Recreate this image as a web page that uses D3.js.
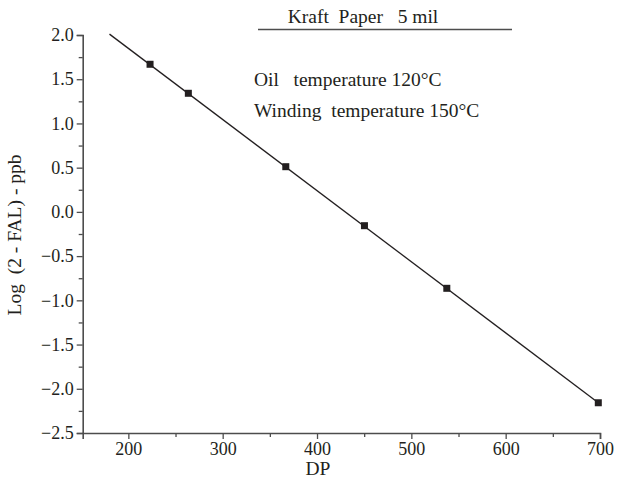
<!DOCTYPE html>
<html>
<head>
<meta charset="utf-8">
<script src="https://cdn.jsdelivr.net/npm/d3@7"></script>
<style>
  html, body { margin: 0; padding: 0; background: #fff; }
  svg { display: block; }
  text { font-family: "Liberation Serif", "DejaVu Serif", serif; fill: #231f20; }
</style>
</head>
<body>
<svg id="chart" width="620" height="496"></svg>
<script>
// Data
const dpValues = [223, 263.6, 366.9, 450.3, 537.6, 698.2];
const logFalValues = [1.669, 1.341, 0.511, -0.156, -0.864, -2.158];
// Fitted line end points
const fitDP = [180, 698.2];
const fitLogFal = [2.01, -2.158];
const xTicks = [200, 300, 400, 500, 600, 700];
const xMinorTicks = [250, 350, 450, 550, 650];
const yTicks = [2.0, 1.5, 1.0, 0.5, 0.0, -0.5, -1.0, -1.5, -2.0, -2.5];
const yMinorTicks = [1.75, 1.25, 0.75, 0.25, -0.25, -0.75, -1.25, -1.75, -2.25];
const titleText = "Kraft  Paper   5 mil";
const noteLines = ["Oil   temperature 120\u00B0C", "Winding  temperature 150\u00B0C"];

const svg = d3.select("#chart");
const plotLeft = 82.7, plotRight = 600, plotTop = 35, plotBottom = 433;

const x = d3.scaleLinear().domain([151.6, 700]).range([plotLeft, plotRight]);
const y = d3.scaleLinear().domain([-2.5, 2.0]).range([plotBottom, plotTop]);

const axisColor = "#4d4d4d";
const textColor = "#231f20";

function styleAxis(g) {
  g.selectAll(".domain").attr("stroke", axisColor).attr("stroke-width", 1.6);
  g.selectAll(".tick line").attr("stroke", axisColor).attr("stroke-width", 1.3);
}

// X axis: minor then major
const gxMinor = svg.append("g").attr("transform", `translate(0,${plotBottom})`)
  .call(d3.axisBottom(x).tickValues(xMinorTicks).tickSize(4).tickFormat(""));
gxMinor.select(".domain").remove();
styleAxis(gxMinor);
const gx = svg.append("g").attr("transform", `translate(0,${plotBottom})`)
  .call(d3.axisBottom(x).tickValues(xTicks).tickSize(6).tickPadding(3).tickFormat(d3.format("d")));
styleAxis(gx);
gx.selectAll(".tick text").style("font-size", "18px").attr("fill", textColor);

// Y axis
const gyMinor = svg.append("g").attr("transform", `translate(${plotLeft},0)`)
  .call(d3.axisLeft(y).tickValues(yMinorTicks).tickSize(4).tickFormat(""));
gyMinor.select(".domain").remove();
styleAxis(gyMinor);
const gy = svg.append("g").attr("transform", `translate(${plotLeft},0)`)
  .call(d3.axisLeft(y).tickValues(yTicks).tickSize(6).tickPadding(3)
    .tickFormat(d => d < 0 ? "\u2212" + Math.abs(d).toFixed(1) : d.toFixed(1)));
styleAxis(gy);
gy.selectAll(".tick text").style("font-size", "18px").attr("fill", textColor);

// Fit line
const line = d3.line().x(d => x(d[0])).y(d => y(d[1]));
svg.append("path")
  .datum(d3.zip(fitDP, fitLogFal))
  .attr("d", line)
  .attr("fill", "none")
  .attr("stroke", textColor)
  .attr("stroke-width", 1.3);

// Points
svg.append("g").selectAll("rect")
  .data(d3.zip(dpValues, logFalValues))
  .join("rect")
  .attr("x", d => x(d[0]) - 3.5)
  .attr("y", d => y(d[1]) - 3.5)
  .attr("width", 7)
  .attr("height", 7)
  .attr("fill", textColor);

// Title with underline
svg.append("text")
  .attr("x", 363).attr("y", 23)
  .attr("text-anchor", "middle")
  .style("font-size", "19.5px")
  .style("white-space", "pre")
  .attr("xml:space", "preserve")
  .text(titleText);
svg.append("line")
  .attr("x1", 258).attr("x2", 512)
  .attr("y1", 29.5).attr("y2", 29.5)
  .attr("stroke", axisColor).attr("stroke-width", 1.6);

// Notes
svg.append("g").selectAll("text")
  .data(noteLines)
  .join("text")
  .attr("x", 254)
  .attr("y", (d, i) => 86 + i * 31)
  .attr("xml:space", "preserve")
  .style("white-space", "pre")
  .style("font-size", "19.5px")
  .text(d => d);

// Axis titles
svg.append("text")
  .attr("x", 318).attr("y", 475)
  .attr("text-anchor", "middle")
  .style("font-size", "19.5px")
  .text("DP");
svg.append("text")
  .attr("transform", "translate(21,235) rotate(-90)")
  .attr("text-anchor", "middle")
  .style("font-size", "19.5px")
  .attr("xml:space", "preserve")
  .style("white-space", "pre")
  .text("Log  (2 - FAL) - ppb");
</script>
</body>
</html>
